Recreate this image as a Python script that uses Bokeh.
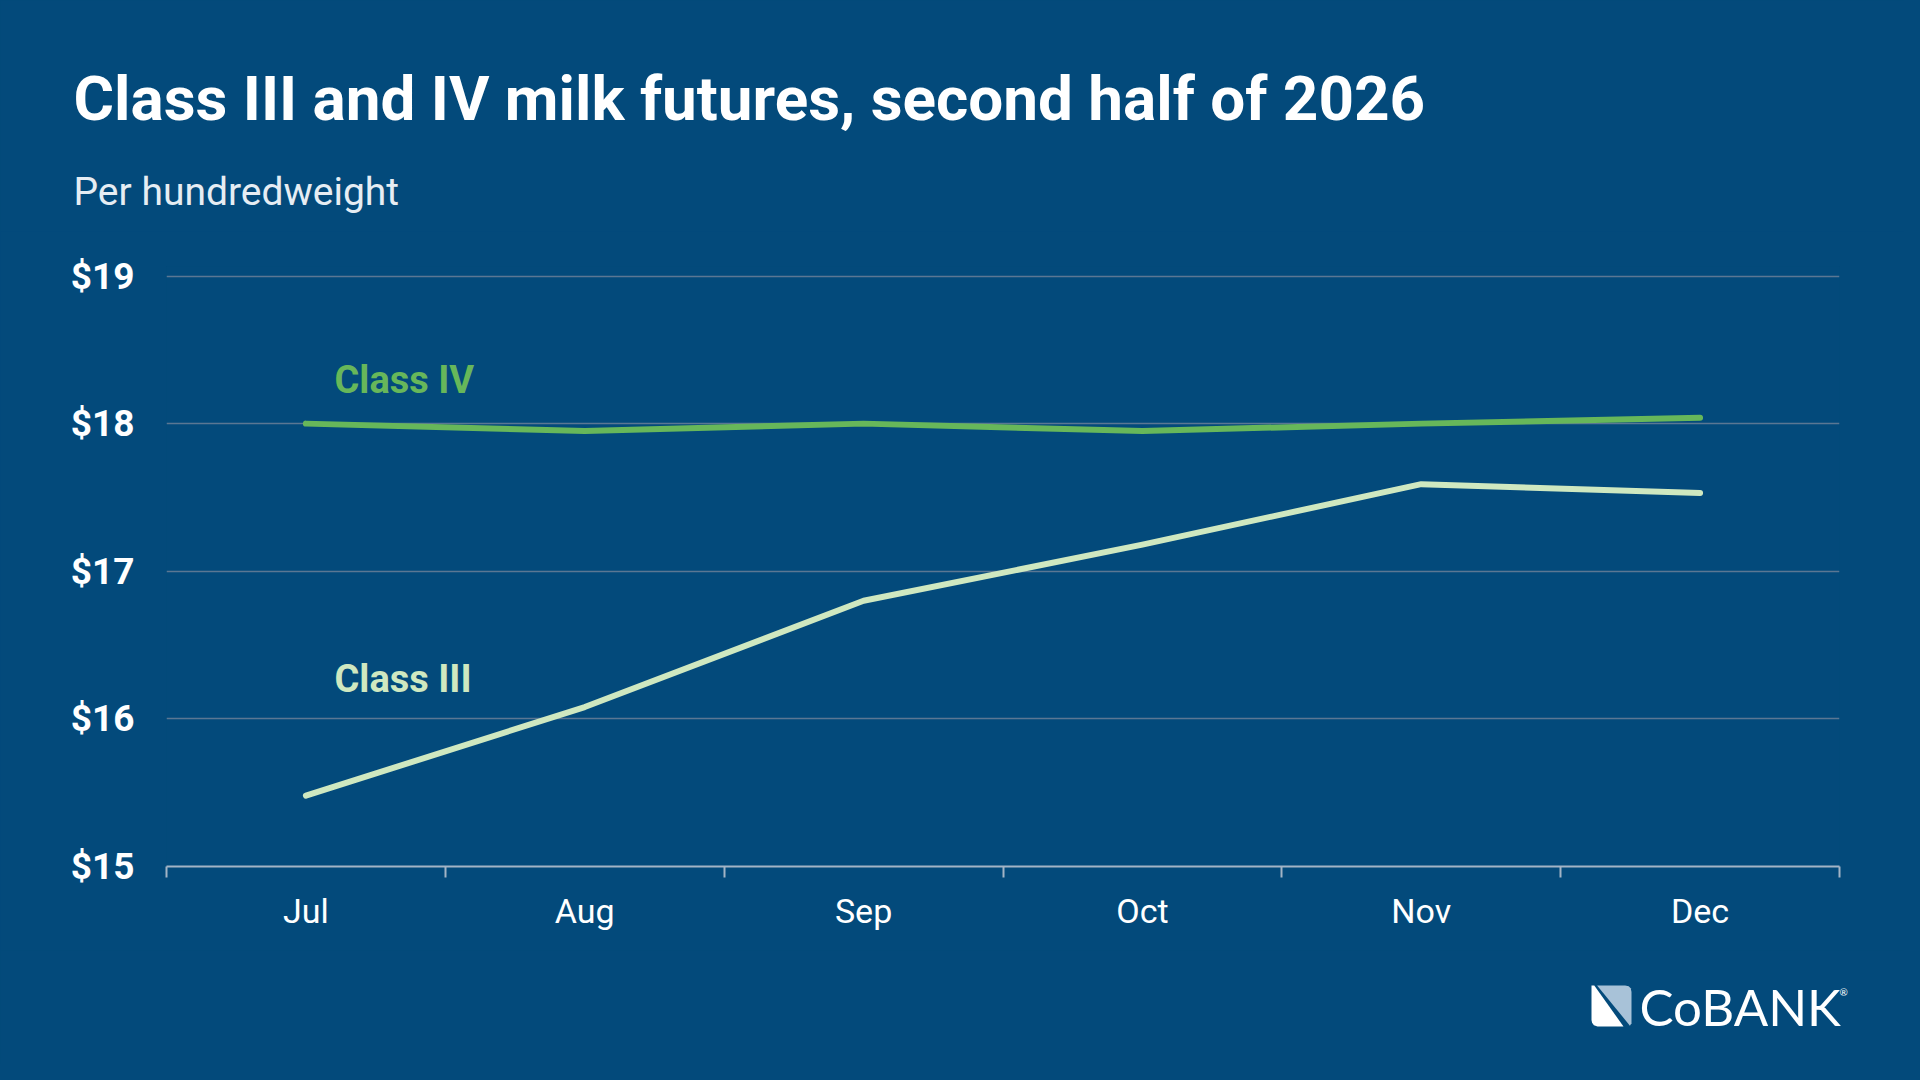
from bokeh.plotting import figure
from bokeh.layouts import column
from bokeh.models import FixedTicker, Label, Range1d
from bokeh.embed import file_html
from bokeh.resources import INLINE

# ---- data ----
months = ["Jul", "Aug", "Sep", "Oct", "Nov", "Dec"]
class_iii = [15.48, 16.08, 16.80, 17.18, 17.59, 17.53]
class_iv = [18.00, 17.95, 18.00, 17.95, 18.00, 18.04]
y_ticks = [15, 16, 17, 18, 19]
y_tick_labels = ["$15", "$16", "$17", "$18", "$19"]

title_text = "Class III and IV milk futures, second half of 2026"
subtitle_text = "Per hundredweight"
logo_text = "CoBANK"

# ---- style ----
BG = "#034a7b"
GRID = "#5b7793"
AXIS = "#a3b4c6"
GREEN = "#67b75a"
LIGHT = "#cfe8c0"
WHITE = "#ffffff"
ICON_BLUE = "#a8c2d8"
FONT = "Roboto"

W, H = 1904, 1064
BL = 0.38                            # baseline correction (em)

HEAD_H = 231
FOOT_TOP = 950
# value axis: 15 at y=866 px, 19 at y=275.5 px
Y_LO_PX, Y_HI_PX = 866, 275.5
FRAME_L, FRAME_R, FRAME_T, FRAME_B = 166, 1839, 266, 866
TOP_PAD = FRAME_T - HEAD_H
MAIN_H = FOOT_TOP - HEAD_H
BOT_PAD = MAIN_H - TOP_PAD - (FRAME_B - FRAME_T)
FOOT_H = H - FOOT_TOP

common = dict(output_backend="svg", toolbar_location=None, title=None,
              frame_align=False, styles={"background-color": BG},
              background_fill_color=BG, border_fill_color=BG, outline_line_color=None)


def blank(height):
    f = figure(width=W, height=height, x_range=Range1d(0, W), y_range=Range1d(height, 0),
               x_axis_type=None, y_axis_type=None, min_border=0, **common)
    f.outline_line_color = None
    return f


def lab(fig, rx, ry, y_off, text, size, color, bold=False, font=FONT):
    fig.add_layout(Label(x=rx, y=ry - y_off - BL * size, text=text,
                         text_color=color, text_font=font,
                         text_font_style="bold" if bold else "normal",
                         text_font_size=f"{size}px", text_baseline="alphabetic"))


# ---- header ----
head = blank(HEAD_H)
lab(head, 73, 122, 0, title_text, 62, WHITE, bold=True)
lab(head, 73, 206, 0, subtitle_text, 39, "#e6edf3")

# ---- main chart ----
x_idx = list(range(len(months)))
PPU = (Y_LO_PX - Y_HI_PX) / (y_ticks[-1] - y_ticks[0])
x0, x1 = -0.5, len(months) - 0.5
y0 = y_ticks[0]
y1 = y_ticks[-1] + (Y_HI_PX - FRAME_T) / PPU

p = figure(
    frame_width=FRAME_R - FRAME_L, frame_height=FRAME_B - FRAME_T,
    x_range=(x0, x1), y_range=(y0, y1),
    min_border_left=FRAME_L, min_border_right=W - FRAME_R,
    min_border_top=TOP_PAD, min_border_bottom=BOT_PAD, **common,
)
p.outline_line_color = None


def dx(rx):
    return x0 + (rx - FRAME_L) * (x1 - x0) / (FRAME_R - FRAME_L)


def dy(ry):
    return y0 + (Y_LO_PX - ry) / PPU


p.xgrid.grid_line_color = None
p.ygrid.ticker = FixedTicker(ticks=y_ticks)
p.ygrid.grid_line_color = GRID
p.ygrid.grid_line_width = 1.5

p.yaxis.ticker = FixedTicker(ticks=y_ticks)
p.yaxis.major_label_overrides = {t: l for t, l in zip(y_ticks, y_tick_labels)}
p.yaxis.axis_line_color = None
p.yaxis.major_tick_line_color = None
p.yaxis.minor_tick_line_color = None
p.yaxis.major_tick_out = 0
p.yaxis.major_label_standoff = 32
p.yaxis.major_label_text_font = FONT
p.yaxis.major_label_text_font_style = "bold"
p.yaxis.major_label_text_font_size = "37px"
p.yaxis.major_label_text_color = WHITE

p.xaxis.ticker = FixedTicker(ticks=x_idx, minor_ticks=[i - 0.5 for i in range(len(months) + 1)])
p.xaxis.major_label_overrides = {i: m for i, m in zip(x_idx, months)}
p.xaxis.axis_line_color = AXIS
p.xaxis.axis_line_width = 2
p.xaxis.major_tick_line_color = None
p.xaxis.major_tick_out = 0
p.xaxis.major_tick_in = 0
p.xaxis.minor_tick_line_color = AXIS
p.xaxis.minor_tick_line_width = 2
p.xaxis.minor_tick_out = 11
p.xaxis.minor_tick_in = 0
p.xaxis.major_label_standoff = 13
p.xaxis.major_label_text_font = FONT
p.xaxis.major_label_text_font_size = "34px"
p.xaxis.major_label_text_color = WHITE

p.line(x_idx, class_iv, line_color=GREEN, line_width=6, line_cap="round", line_join="round")
p.line(x_idx, class_iii, line_color=LIGHT, line_width=6, line_cap="round", line_join="round")

for txt, ry, col in [("Class IV", 394, GREEN), ("Class III", 693, LIGHT)]:
    size = 38
    p.add_layout(Label(x=dx(334), y=dy(ry) + BL * size / PPU, text=txt, text_color=col,
                       text_font=FONT, text_font_style="bold", text_font_size=f"{size}px",
                       text_baseline="alphabetic"))

# ---- footer with logo ----
foot = blank(FOOT_H)
oy = FOOT_TOP
ix, iy, iw, ih = 1591, 985 - oy, 40, 41
white_pts = [(0, 0), (0.07, 0), (0.8, 1), (0.15, 1), (0.06, 0.97), (0.015, 0.91), (0, 0.84)]
blue_pts = [(0.14, 0), (0.84, 0), (0.93, 0.02), (0.98, 0.07), (1, 0.16), (1, 0.92), (0.96, 0.98)]
foot.patch([ix + a * iw for a, b in white_pts], [iy + b * ih for a, b in white_pts],
           fill_color=WHITE, line_color=None)
foot.patch([ix + a * iw for a, b in blue_pts], [iy + b * ih for a, b in blue_pts],
           fill_color=ICON_BLUE, line_color=None)
lab(foot, 1639, 1025, oy, logo_text, 51, WHITE, font="Lato")
lab(foot, 1839, 995, oy, "®", 10, WHITE, font="Lato")

layout = column(head, p, foot, spacing=0, styles={"background-color": BG})

html = None
try:
    from jinja2 import Template
    tpl = Template("{% extends base %}{% block preamble %}<style>html, body {background: "
                   + BG + ";}</style>{% endblock %}")
    html = file_html(layout, INLINE, template=tpl)
except Exception:
    html = file_html(layout, INLINE)
open("out.html", "w").write(html)
